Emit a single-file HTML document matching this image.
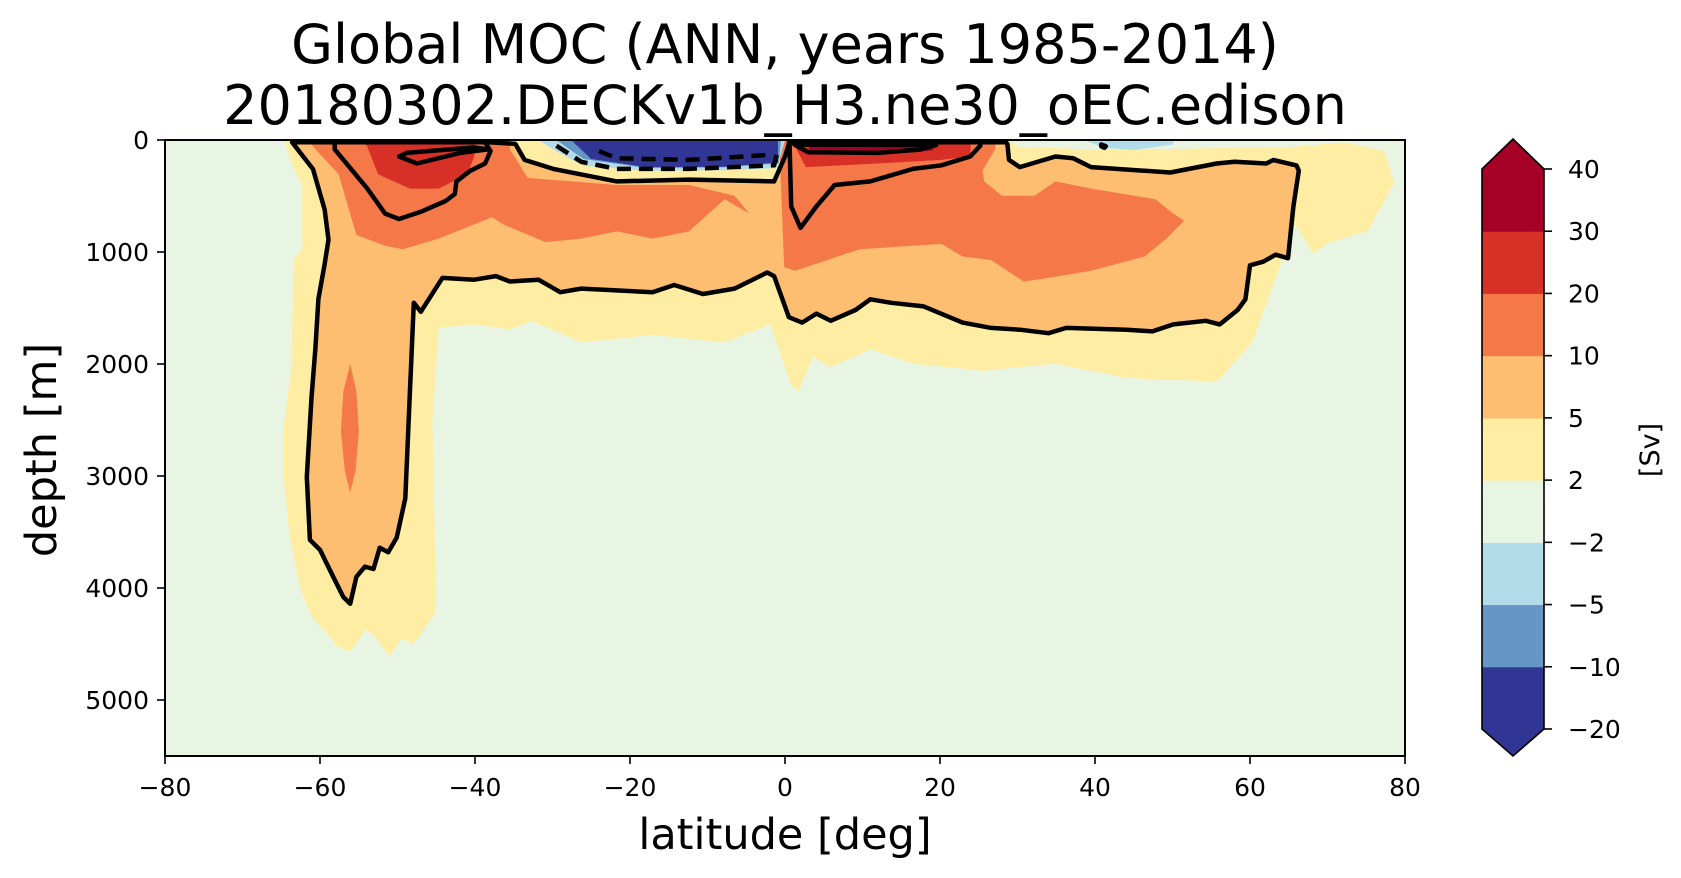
<!DOCTYPE html>
<html><head><meta charset="utf-8"><style>
html,body{margin:0;padding:0;background:#fff;}
svg{display:block;font-family:"DejaVu Sans","Liberation Sans",sans-serif;}
</style></head><body>
<svg id="chart" width="1681" height="878" viewBox="0 0 1681 878" xmlns="http://www.w3.org/2000/svg">
<defs><clipPath id="plotclip"><rect x="165" y="140" width="1240" height="616"/></clipPath></defs>
<text x="785" y="63" font-size="54" text-anchor="middle">Global MOC (ANN, years 1985-2014)</text>
<text x="785" y="124" font-size="54" text-anchor="middle">20180302.DECKv1b_H3.ne30_oEC.edison</text>
<rect x="165" y="140" width="1240" height="616" fill="#e9f5e3"/>
<g id="fills" clip-path="url(#plotclip)"></g>
<g id="lines" clip-path="url(#plotclip)"></g>
<rect x="165" y="140" width="1240" height="616" fill="none" stroke="#000" stroke-width="2"/>
<g id="xticks"></g>
<g id="yticks"></g>
<text x="785" y="849" font-size="43" text-anchor="middle">latitude [deg]</text>
<text transform="translate(56,450) rotate(-90)" font-size="43" text-anchor="middle">depth [m]</text>
<g id="cbar"></g>
<text transform="translate(1659,450) rotate(-90)" font-size="27" text-anchor="middle">[Sv]</text>
</svg>
<script>
const xTicks=[-80,-60,-40,-20,0,20,40,60,80];
const yTicks=[0,1000,2000,3000,4000,5000];
const cbarLevels=[-20,-10,-5,-2,2,5,10,20,30,40];
const cbarColors=["#313695","#6497c5","#b2dce9","#e9f5e3","#feeda2","#fdbe71","#f57849","#d73027","#a50026"];
const cbarLabels=["\u221220","\u221210","\u22125","\u22122","2","5","10","20","30","40"];

const yellowRegion=[[-64.5,0],[-64.5,20],[-63.6,220],[-62.3,400],[-62.3,975],[-63.4,1064],[-63.7,2040],[-64.7,2570],[-64.7,3014],[-63.9,3546],[-62.6,3990],[-61.1,4255],[-58.7,4433],[-57.8,4521],[-56.1,4566],[-54,4366],[-52.7,4450],[-51,4610],[-49.5,4450],[-47.9,4500],[-45.1,4215],[-45.1,3930],[-45.5,2500],[-44.7,1677],[-40.1,1645],[-35.5,1693],[-32.7,1614],[-26.3,1805],[-17.1,1741],[-7.8,1805],[-1.9,1645],[0.8,2188],[1.75,2245],[3.6,1933],[5.9,2028],[11,1869],[16.5,1996],[25.7,2060],[34.9,1996],[44.1,2124],[55.7,2156],[60.3,1805],[65.8,753],[68.1,1008],[70.3,912],[75.2,814],[78.6,383],[77.3,96],[72,20],[60,0]];
const greenTop=[[29,0],[30,60],[40,85],[50,80],[58,70],[66,60],[72,20],[72,0]];
const outerContour=[[-63.6,20],[-60.9,260],[-59.4,620],[-58.9,890],[-59.4,1110],[-60.2,1420],[-60.6,1860],[-61.1,2300],[-61.7,3010],[-61.3,3570],[-60,3660],[-58.3,3900],[-57,4080],[-56.1,4140],[-55.3,3900],[-54.2,3810],[-53.1,3830],[-52.3,3640],[-51.2,3680],[-50.1,3550],[-49,3200],[-48.4,2252],[-47.9,1454],[-47,1534],[-44.2,1231],[-40.1,1247],[-37.3,1215],[-35.5,1263],[-31.8,1247],[-29,1359],[-26.3,1327],[-17.1,1359],[-14.3,1295],[-10.6,1375],[-6.5,1327],[-2.3,1183],[-1.4,1215],[0.5,1582],[2.2,1630],[4.05,1550],[5.9,1614],[9.1,1518],[11,1422],[13.7,1454],[17.9,1486],[22.9,1630],[26.6,1678],[30.3,1694],[34,1725],[36.3,1678],[44.1,1694],[47.4,1709],[50.1,1646],[54.3,1614],[56.1,1646],[58.4,1518],[59.4,1422],[60,1119],[61.7,1087],[63.3,1024],[64.9,1055],[65.6,593],[66.3,274],[66,227],[63,179],[62.1,210],[58,195],[55.7,210],[49.7,290],[39.5,242],[37.2,163],[34.9,147],[30.3,242],[28.9,178],[28.7,35],[28.5,20],[0.5,20],[0.5,35],[0,147],[-1.4,370],[-12.4,354],[-21.7,370],[-29.9,258],[-33.6,178],[-34.8,35],[-38.2,20]];
const orangeLeft=[[-61.5,0],[-60.8,67],[-57.6,306],[-55.3,848],[-51.6,944],[-49.3,976],[-44.7,880],[-37.8,689],[-36.4,753],[-30.9,912],[-26.3,880],[-21.7,816],[-17.1,880],[-12.4,816],[-7.8,529],[-4.6,657],[-6.5,497],[-12.4,402],[-21.7,402],[-33.2,338],[-35.5,83],[-35.5,0]];
const orangeBlob=[[-56.1,2000],[-55.3,2250],[-55,2600],[-55.4,2950],[-56.1,3150],[-56.8,2950],[-57.3,2600],[-57,2250]];
const orangeNorth=[[-0.8,0],[-0.6,274],[-0.1,1135],[1.3,1167],[9.6,976],[16.5,944],[20.2,928],[22.9,1040],[26.6,1071],[30.8,1263],[34,1231],[39.5,1167],[46.4,1040],[49.2,880],[51.5,721],[50.1,657],[47.8,529],[39.5,434],[34.9,370],[32.2,497],[28,497],[25.7,370],[25.5,274],[27.1,83],[27.3,0]];
const redLeft=[[-54.5,0],[-53.9,60],[-52.5,306],[-48.4,434],[-44.7,434],[-41,306],[-40.1,147],[-40,0]];
const redNorth=[[1.2,0],[1.3,60],[2.7,242],[11.9,210],[20.2,178],[23.9,147],[24,0]];
const darkRedNorth=[[3,0],[3.2,120],[11,125],[19,95],[20,0]];
const lightBlueSouth=[[-31.8,0],[-30,80],[-26,230],[-18,274],[-8,270],[-1,250],[0,0]];
const midBlueSouth=[[-29.5,0],[-26,170],[-18,250],[-8,245],[-0.8,210],[-0.5,0]];
const darkBlueSouth=[[-27.6,0],[-25,170],[-18,242],[-8,238],[-0.9,200],[-0.9,0]];
const lightBlueSpot=[[38.6,0],[41,70],[45,90],[50.1,40],[50.1,0]];
const leftInner=[[-58.1,20],[-58.1,83],[-53.9,434],[-51.6,657],[-49.8,705],[-47,641],[-43.8,545],[-42.6,482],[-42.4,370],[-40.6,274],[-38.7,210],[-38,99],[-38.7,20]];
const leftCore=[[-49.8,147],[-47.5,210],[-41.9,115],[-38.2,83],[-40.1,67],[-46.1,99],[-48.8,115]];
const northInner=[[0.6,20],[0.6,51],[0.8,593],[2,785],[4.05,593],[6.4,402],[11,370],[16.5,258],[20.2,226],[23.9,147],[25.2,51],[25.2,20]];
const northCore=[[1.2,40],[3,110],[12,115],[17.5,85],[19.5,45]];
const dashOuter=[[-29.5,51],[-26.3,195],[-21.7,258],[-12.4,258],[-1.4,226],[-0.9,83]];
const dashInner=[[-24,99],[-21.7,163],[-12.4,178],[-1.8,131]];
const spotContour=[[40.8,40],[41.4,55],[41.2,70],[40.8,55]];

const X0=165,X1=1405,Y0=140,Y1=756;
function x(lat){return X0+(lat+80)/160*(X1-X0);}
function y(d){return Y0+d/5500*(Y1-Y0);}
function pathOf(pts,close){return pts.map((p,i)=>(i?'L':'M')+x(p[0]).toFixed(1)+','+y(p[1]).toFixed(1)).join(' ')+(close?' Z':'');}
const NS='http://www.w3.org/2000/svg';
const fillsG=document.getElementById('fills');
const linesG=document.getElementById('lines');
function fillPoly(pts,color,name){
  const p=document.createElementNS(NS,'path');
  p.setAttribute('d',pathOf(pts,true));p.setAttribute('fill',color);
  
  
  fillsG.appendChild(p);
}
function linePoly(pts,close,dash,name){
  const p=document.createElementNS(NS,'path');
  p.setAttribute('d',pathOf(pts,close));p.setAttribute('fill','none');
  p.setAttribute('stroke','#000');p.setAttribute('stroke-width','4.5');p.setAttribute('stroke-linejoin','round');
  if(dash)p.setAttribute('stroke-dasharray','14,8');
  
  
  linesG.appendChild(p);
}
fillPoly(yellowRegion,cbarColors[4],'fill-2-5');
fillPoly(greenTop,cbarColors[3],'fill-near-zero-north');
fillPoly(outerContour,cbarColors[5],'fill-5-10');
fillPoly(orangeLeft,cbarColors[6],'fill-10-20-south');
fillPoly(orangeBlob,cbarColors[6],'fill-10-20-deep');
fillPoly(orangeNorth,cbarColors[6],'fill-10-20-north');
fillPoly(redLeft,cbarColors[7],'fill-20-30-south');
fillPoly(redNorth,cbarColors[7],'fill-20-30-north');
fillPoly(darkRedNorth,cbarColors[8],'fill-30-40-north');
fillPoly(lightBlueSouth,cbarColors[2],'fill-neg-2-5');
fillPoly(midBlueSouth,cbarColors[1],'fill-neg-5-10');
fillPoly(darkBlueSouth,cbarColors[0],'fill-neg-10-20');
fillPoly(lightBlueSpot,cbarColors[2],'fill-neg-spot');
linePoly(outerContour,true,false,'contour-outer');
linePoly(leftInner,false,false,'contour-south-inner');
linePoly(leftCore,true,false,'contour-south-core');
linePoly(northInner,false,false,'contour-north-inner');
linePoly(northCore,true,false,'contour-north-core');
linePoly(dashOuter,false,true,'contour-negative-outer');
linePoly(dashInner,false,true,'contour-negative-inner');
linePoly(spotContour,true,false,'contour-spot');

const xg=document.getElementById('xticks');
xTicks.forEach(v=>{
  const l=document.createElementNS(NS,'line');
  l.setAttribute('x1',x(v));l.setAttribute('x2',x(v));l.setAttribute('y1',Y1);l.setAttribute('y2',Y1+8);l.setAttribute('stroke','#000');l.setAttribute('stroke-width','1.6');
  
  
  xg.appendChild(l);
  const t=document.createElementNS(NS,'text');
  t.setAttribute('x',x(v));t.setAttribute('y',Y1+40);t.setAttribute('font-size','25');t.setAttribute('text-anchor','middle');
  t.textContent=(v<0?'\u2212':'')+Math.abs(v);
  
  
  xg.appendChild(t);
});
const yg=document.getElementById('yticks');
yTicks.forEach(v=>{
  const l=document.createElementNS(NS,'line');
  l.setAttribute('x1',X0-8);l.setAttribute('x2',X0);l.setAttribute('y1',y(v));l.setAttribute('y2',y(v));l.setAttribute('stroke','#000');l.setAttribute('stroke-width','1.6');
  
  
  yg.appendChild(l);
  const t=document.createElementNS(NS,'text');
  t.setAttribute('x',X0-16);t.setAttribute('y',y(v)+9);t.setAttribute('font-size','25');t.setAttribute('text-anchor','end');
  t.textContent=v;
  
  
  yg.appendChild(t);
});
const cbG=document.getElementById('cbar');
const CX0=1482,CX1=1544,CT=169,CB=729,TIP=30;
const bandH=(CB-CT)/(cbarLevels.length-1);
function cy(i){return CB-i*bandH;}
const midX=(CX0+CX1)/2;
cbarColors.forEach((c,i)=>{
  const r=document.createElementNS(NS,'rect');
  r.setAttribute('x',CX0);r.setAttribute('width',CX1-CX0);
  r.setAttribute('y',cy(i+1));r.setAttribute('height',bandH+0.5);r.setAttribute('fill',c);
  
  
  cbG.appendChild(r);
});
const triTop=document.createElementNS(NS,'path');
triTop.setAttribute('d',`M${CX0},${CT+0.5} L${midX},${CT-TIP} L${CX1},${CT+0.5} Z`);
triTop.setAttribute('fill',cbarColors[cbarColors.length-1]);


cbG.appendChild(triTop);
const triBot=document.createElementNS(NS,'path');
triBot.setAttribute('d',`M${CX0},${CB-0.5} L${midX},${CB+TIP-3} L${CX1},${CB-0.5} Z`);
triBot.setAttribute('fill',cbarColors[0]);


cbG.appendChild(triBot);
const cbOutline=document.createElementNS(NS,'path');
cbOutline.setAttribute('d',`M${CX0},${CT} L${midX},${CT-TIP} L${CX1},${CT} L${CX1},${CB} L${midX},${CB+TIP-3} L${CX0},${CB} Z`);
cbOutline.setAttribute('fill','none');cbOutline.setAttribute('stroke','#000');cbOutline.setAttribute('stroke-width','1.6');


cbG.appendChild(cbOutline);
cbarLevels.forEach((v,i)=>{
  const l=document.createElementNS(NS,'line');
  l.setAttribute('x1',CX1);l.setAttribute('x2',CX1+8);l.setAttribute('y1',cy(i));l.setAttribute('y2',cy(i));l.setAttribute('stroke','#000');l.setAttribute('stroke-width','1.6');
  
  
  cbG.appendChild(l);
  const t=document.createElementNS(NS,'text');
  t.setAttribute('x',1568);t.setAttribute('y',cy(i)+9);t.setAttribute('font-size','25');
  t.textContent=cbarLabels[i];
  
  
  cbG.appendChild(t);
});
</script>
</body></html>
